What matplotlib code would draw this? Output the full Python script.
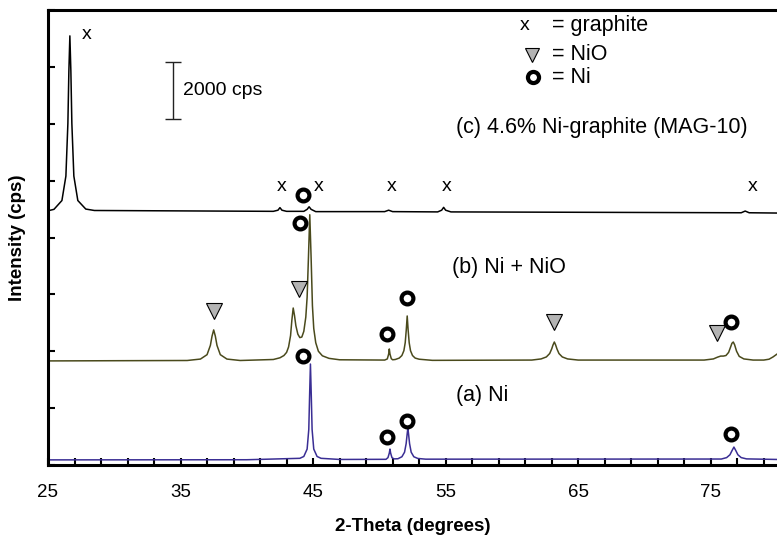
import matplotlib
matplotlib.use("Agg")
import matplotlib.pyplot as plt

plt.rcParams['font.family'] = ['Liberation Sans', 'DejaVu Sans']

# ---------------- data (2-theta in degrees, intensity in cps) ----------------
# (a) Ni
x_a = [25, 40, 44.0, 44.3, 44.55, 44.675, 44.74, 44.8, 44.86, 44.925, 45.05, 45.3, 45.6, 47,
       50.5, 50.65, 50.75, 50.8, 50.85, 50.95, 51.1,
       51.4, 51.7, 51.9, 52.02, 52.1, 52.15, 52.2, 52.28, 52.4, 52.6, 52.9, 53.5,
       75.8, 76.2, 76.45, 76.6, 76.75, 76.9, 77.05, 77.3, 77.7, 80]
y_a = [180, 185, 235, 300, 560, 1250, 2500, 3550, 2500, 1250, 560, 300, 235, 195,
       200, 260, 420, 560, 420, 260, 215,
       220, 290, 450, 750, 1100, 1300, 1100, 750, 450, 290, 230, 205,
       210, 260, 360, 500, 630, 500, 360, 260, 215, 195]

# (b) Ni + NiO
x_b = [25, 35.5, 36.5, 37.0, 37.25, 37.375, 37.5, 37.625, 37.75, 38.0, 38.5, 39.5,
       42.0, 42.5, 42.8, 43.0, 43.15, 43.3, 43.4, 43.5, 43.6, 43.7, 43.85, 44.0, 44.15, 44.3,
       44.45, 44.55, 44.65, 44.75, 44.85, 44.95, 45.05, 45.2, 45.4, 45.7, 46.2, 47.0,
       50.4, 50.6, 50.7, 50.75, 50.8, 50.9, 51.0,
       51.2, 51.5, 51.7, 51.85, 51.95, 52.03, 52.1, 52.17, 52.25, 52.35, 52.5, 52.7, 53.0, 54.0,
       61.5, 62.2, 62.6, 62.85, 63.0, 63.1, 63.2, 63.3, 63.4, 63.55, 63.8, 64.2, 65.0,
       74.5, 75.2, 75.5, 75.75, 75.95, 76.15, 76.35, 76.5, 76.6, 76.7, 76.8, 76.95, 77.15, 77.5,
       78.2, 79.0, 79.4, 79.7, 80]
y_b = [3660, 3675, 3725, 3880, 4205, 4530, 4750, 4530, 4205, 3880, 3725, 3675,
       3710, 3770, 3850, 3960, 4150, 4550, 5100, 5520, 5250, 4900, 4600, 4480, 4500, 4700,
       5200, 5900, 7300, 8800, 7300, 5600, 4800, 4300, 4000, 3840, 3750, 3700,
       3690, 3730, 3900, 4080, 3900, 3740, 3700,
       3710, 3760, 3850, 4020, 4300, 4750, 5240, 4750, 4300, 4020, 3850, 3760, 3720, 3680,
       3690, 3730, 3800, 3920, 4080, 4220, 4325, 4220, 4080, 3920, 3800, 3730, 3690,
       3690, 3730, 3790, 3830, 3830, 3850, 3960, 4150, 4280, 4325, 4230, 4000, 3820, 3730,
       3690, 3690, 3720, 3800, 3900]

# (c) 4.6% Ni-graphite
x_c = [25.0, 25.45, 26.05, 26.35, 26.5, 26.575, 26.65, 26.725, 26.8, 26.95, 27.25, 27.85, 28.5,
       42.0, 42.35, 42.5, 42.65, 43.0, 44.3, 44.55, 44.7, 44.85, 45.2,
       50.4, 50.7, 51.0, 54.4, 54.7, 54.85, 55.0, 55.4,
       77.3, 77.6, 77.9, 80]
y_c = [8940, 8990, 9300, 10160, 12010, 13860, 15090, 13860, 12010, 10160, 9300, 9000, 8950,
       8920, 8960, 9050, 8960, 8920, 8920, 8990, 9080, 8990, 8910,
       8910, 8960, 8910, 8900, 8960, 9060, 8960, 8900,
       8870, 8930, 8870, 8860]

# phase markers
graphite_x = [27.9, 42.6, 45.4, 50.9, 55.1, 78.2]
graphite_y = [15150, 9780, 9780, 9780, 9780, 9780]
nio_x = [37.5, 43.9, 63.2, 75.5]
nio_y = [5420, 6190, 5030, 4640]
ni_x = [44.25, 44.0, 50.6, 52.1, 76.5, 44.25, 50.6, 52.1, 76.5]
ni_y = [9500, 8510, 4600, 5870, 5030, 3830, 985, 1550, 1090]

labels = ["(c) 4.6% Ni-graphite (MAG-10)", "(b) Ni + NiO", "(a) Ni"]
label_x = [55.8, 55.45, 55.8]
label_y = [11880, 6960, 2460]

key_labels = ["= graphite", "= NiO", "= Ni"]
key_y = [15470, 14420, 13640]

# ---------------- figure ----------------
fig = plt.figure(figsize=(7.77, 5.37), dpi=100)
ax = fig.add_axes([48 / 777, 1 - 465 / 537, 1 - 48 / 777, (465 - 10) / 537])

ax.plot(x_a, y_a, color='#3a2e94', lw=1.1)
ax.plot(x_b, y_b, color='#4a4a1c', lw=1.1)
ax.plot(x_c, y_c, color='black', lw=1.1)

for gx, gy in zip(graphite_x, graphite_y):
    ax.text(gx, gy, 'x', ha='center', va='center', fontsize=14)
ax.plot(nio_x, nio_y, linestyle='none', marker='v', markersize=11,
        markerfacecolor='#b4b4b4', markeredgecolor='black', markeredgewidth=0.8)
ax.plot(ni_x, ni_y, linestyle='none', marker='o', markersize=8.5,
        markerfacecolor='white', markeredgecolor='black', markeredgewidth=3.0)

for t, lx, ly in zip(labels, label_x, label_y):
    ax.text(lx, ly, t, ha='left', va='center', fontsize=15.5)

# scale bar 2000 cps
ax.errorbar([34.4], [13170], yerr=[[1000], [1000]], color='#222222', lw=1.0,
            capsize=6, capthick=1.0)
ax.text(35.15, 13170, '2000 cps', ha='left', va='center', fontsize=14)

# key
ax.text(60.95, key_y[0], 'x', ha='center', va='center', fontsize=14)
ax.plot([61.5], [key_y[1]], marker='v', markersize=10, markerfacecolor='#b4b4b4',
        markeredgecolor='black', markeredgewidth=0.8, linestyle='none')
ax.plot([61.6], [key_y[2]], marker='o', markersize=8, markerfacecolor='white',
        markeredgecolor='black', markeredgewidth=3.0, linestyle='none')
for t, ky in zip(key_labels, key_y):
    ax.text(63.0, ky, t, ha='left', va='center', fontsize=15.5)

ax.set_xlim(25, 80)
ax.set_ylim(0, 16000)
ax.set_xticks([25, 35, 45, 55, 65, 75])
ax.set_xticks([x for x in range(25, 81, 2)], minor=True)
ax.set_yticks(range(0, 16001, 2000))
ax.set_yticklabels([])
ax.tick_params(axis='x', which='both', direction='in', length=5, width=1.5,
               labelsize=13.5, pad=14)
ax.tick_params(axis='y', which='both', direction='in', length=5, width=1.5)
for side in ['left', 'bottom', 'top']:
    ax.spines[side].set_linewidth(2.2)
ax.spines['right'].set_visible(False)

ax.set_xlabel('2-Theta (degrees)', fontsize=13.5, fontweight='bold', labelpad=12)
ax.set_ylabel('Intensity (cps)', fontsize=13.5, fontweight='bold', labelpad=12)

fig.savefig('out.png', dpi=100)
